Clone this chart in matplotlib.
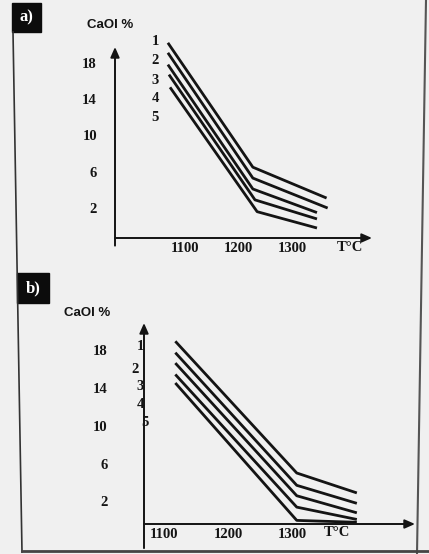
import matplotlib
matplotlib.use("Agg")
import matplotlib.pyplot as plt
from matplotlib.patches import Rectangle
from matplotlib.lines import Line2D

# panel a) : temperature (degC) and CaO libre % for curves 1..5
a_temp = [[1068, 1227, 1365],
          [1068, 1227, 1367],
          [1068, 1227, 1347],
          [1070, 1231, 1347],
          [1072, 1235, 1347]]
a_cao = [[20.2, 6.5, 3.1],
         [19.1, 5.3, 2.0],
         [17.8, 4.1, 1.5],
         [16.7, 2.9, 0.8],
         [15.3, 1.6, -0.2]]

# panel b)
b_temp = [[1117, 1307, 1401]] * 5
b_cao = [[18.9, 5.0, 2.9],
         [17.7, 3.7, 1.8],
         [16.6, 2.6, 0.8],
         [15.4, 1.4, 0.1],
         [14.5, 0.0, -0.2]]

curve_names = ["1", "2", "3", "4", "5"]
a_name_x = [1044] * 5
a_name_y = [20.3, 18.3, 16.1, 14.1, 12.0]
b_name_x = [1062, 1054, 1062, 1062, 1070]
b_name_y = [18.3, 15.9, 14.1, 12.2, 10.3]

yticks = [2, 6, 10, 14, 18]
xticks = [1100, 1200, 1300]

W, H = 429, 554
fig = plt.figure(figsize=(W / 100, H / 100), dpi=100)
fig.patch.set_facecolor("#f0f0f0")
ink = "#141414"
serif = "Liberation Serif"


def px_rect(left, right, top, bottom):
    return [left / W, 1 - bottom / H, (right - left) / W, (bottom - top) / H]


def draw_panel(rect, xlim, ylim, temps, caos, nx, ny, ypad, ydrop, tc_pos):
    ax = fig.add_axes(rect)
    ax.set_facecolor("none")
    for s in ax.spines.values():
        s.set_visible(False)
    ax.set_xlim(xlim)
    ax.set_ylim(ylim)
    for t, c in zip(temps, caos):
        ax.plot(t, c, color=ink, lw=2.0, solid_capstyle="butt", clip_on=False)
    for name, x, y in zip(curve_names, nx, ny):
        ax.text(x, y, name, ha="center", va="center", fontsize=10.5,
                family=serif, weight="bold", color=ink, clip_on=False)
    ax.set_xticks(xticks)
    ax.set_xticklabels([str(v) for v in xticks], family=serif, fontsize=10.5,
                       weight="bold", color=ink)
    ax.set_yticks(yticks)
    ax.set_yticklabels([str(v) for v in yticks], family=serif, fontsize=10.5,
                       weight="bold", color=ink)
    ax.tick_params(axis="x", length=0, pad=3)
    ax.tick_params(axis="y", length=0, pad=ypad)
    ax.annotate("", xy=(1, 0), xytext=(0, 0), xycoords="axes fraction",
                arrowprops=dict(arrowstyle="-|>,head_length=0.5,head_width=0.22",
                                lw=1.4, color=ink, mutation_scale=12,
                                shrinkA=0, shrinkB=0))
    ax.annotate("", xy=(0, 1), xytext=(0, -ydrop), xycoords="axes fraction",
                arrowprops=dict(arrowstyle="-|>,head_length=0.5,head_width=0.22",
                                lw=1.4, color=ink, mutation_scale=12,
                                shrinkA=0, shrinkB=0))
    ax.text(tc_pos[0], tc_pos[1], "T°C", ha="center", va="center", fontsize=10.5,
            family=serif, weight="bold", color=ink, clip_on=False)
    return ax


draw_panel(px_rect(115, 372, 47, 238), (969, 1450), (-1.3, 19.74),
           a_temp, a_cao, a_name_x, a_name_y, 13, 0.04, (1408, -2.3))
draw_panel(px_rect(144, 415, 323, 524), (1068, 1492), (-0.38, 20.83),
           b_temp, b_cao, b_name_x, b_name_y, 26, 0.12, (1370, -1.3))

fig.text(110 / W, 1 - 25 / H, "CaOI %", ha="center", va="center", fontsize=9.5,
         family="Liberation Sans", weight="bold", color=ink)
fig.text(87 / W, 1 - 313 / H, "CaOI %", ha="center", va="center", fontsize=9.5,
         family="Liberation Sans", weight="bold", color=ink)

# panel tags and page frame
for (x0, y0, x1, y1, tag) in [(12, 3, 41, 32, "a)"), (17, 273, 49, 303, "b)")]:
    fig.patches.append(Rectangle((x0 / W, 1 - y1 / H), (x1 - x0) / W, (y1 - y0) / H,
                                 transform=fig.transFigure, color="#0c0c0c"))
    fig.text((x0 + x1) / 2 / W, 1 - (y0 + y1) / 2 / H, tag, ha="center", va="center",
             fontsize=12, family=serif, weight="bold", color="white")

fig.lines.append(Line2D([13 / W, 22 / W], [1 - 32 / H, 1 - 552 / H],
                        transform=fig.transFigure, color="#333333", lw=1.2))
fig.lines.append(Line2D([426 / W, 417 / W], [1.0, 0.0],
                        transform=fig.transFigure, color="#555555", lw=1.5))
fig.lines.append(Line2D([22 / W, 1.0], [1 - 551 / H, 1 - 551 / H],
                        transform=fig.transFigure, color="#444444", lw=2))

fig.savefig("out.png", dpi=100, facecolor=fig.get_facecolor())
